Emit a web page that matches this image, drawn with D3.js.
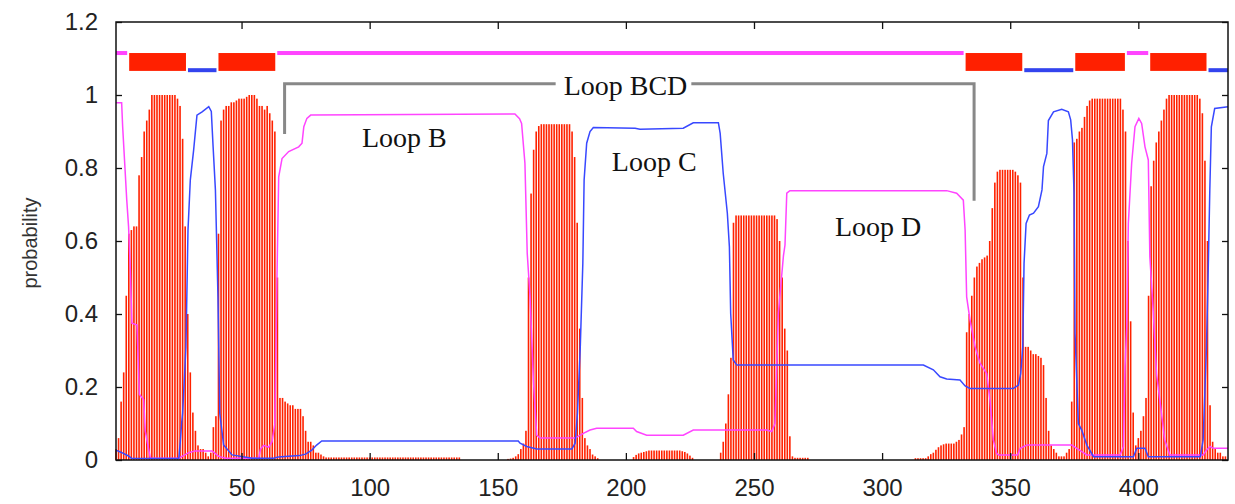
<!DOCTYPE html>
<html>
<head>
<meta charset="utf-8">
<script src="https://cdn.jsdelivr.net/npm/d3@7"></script>
<style>
  body { margin: 0; background: #fff; }
  svg { display: block; }
</style>
</head>
<body>
<script>
(function(){

    //TM helix probability, one value per residue 1..435 (red impulses)
    var helixProb = [
        0.03, 0.06, 0.16, 0.24, 0.45, 0.62, 0.63, 0.64, 0.64, 0.78,
        0.83, 0.9, 0.93, 0.96, 1, 1, 1, 1, 1, 1,
        1, 1, 1, 1, 0.99, 0.97, 0.88, 0.64, 0.4, 0.24,
        0.13, 0.08, 0.04, 0.03, 0.03, 0.02, 0.01, 0.02, 0.09, 0.12,
        0.62, 0.93, 0.96, 0.97, 0.97, 0.98, 0.98, 0.985, 0.99, 0.99,
        0.99, 0.995, 1, 1, 1, 0.99, 0.97, 0.97, 0.96, 0.97,
        0.95, 0.93, 0.9, 0.5, 0.17, 0.17, 0.16, 0.155, 0.15, 0.15,
        0.14, 0.14, 0.14, 0.12, 0.08, 0.05, 0.05, 0.04, 0.02, 0.02,
        0.015, 0.01, 0.007, 0.007, 0.007, 0.007, 0.007, 0.007, 0.007, 0.007,
        0.007, 0.007, 0.007, 0.007, 0.007, 0.007, 0.007, 0.007, 0.007, 0.007,
        0.007, 0.007, 0.007, 0.007, 0.007, 0.007, 0.007, 0.007, 0.007, 0.007,
        0.007, 0.007, 0.007, 0.007, 0.007, 0.007, 0.007, 0.007, 0.007, 0.007,
        0.007, 0.007, 0.007, 0.007, 0.007, 0.007, 0.007, 0.007, 0.007, 0.007,
        0.007, 0.007, 0.007, 0.007, 0.007, 0, 0, 0, 0, 0,
        0, 0, 0, 0, 0, 0, 0, 0, 0, 0,
        0, 0, 0, 0.003, 0.004, 0.006, 0.01, 0.016, 0.03, 0.045,
        0.08, 0.5, 0.73, 0.85, 0.9, 0.915, 0.92, 0.92, 0.92, 0.92,
        0.92, 0.92, 0.92, 0.92, 0.92, 0.92, 0.92, 0.92, 0.9, 0.83,
        0.65, 0.36, 0.17, 0.06, 0.04, 0.03, 0.015, 0.01, 0.005, 0,
        0, 0, 0, 0, 0, 0, 0, 0, 0, 0,
        0, 0, 0.008, 0.014, 0.018, 0.02, 0.022, 0.024, 0.026, 0.026,
        0.026, 0.026, 0.026, 0.026, 0.026, 0.026, 0.026, 0.026, 0.026, 0.026,
        0.026, 0.024, 0.022, 0.018, 0.012, 0.006, 0, 0, 0, 0,
        0, 0, 0, 0, 0, 0, 0.02, 0.05, 0.1, 0.18,
        0.28, 0.65, 0.67, 0.67, 0.67, 0.67, 0.67, 0.67, 0.67, 0.67,
        0.67, 0.67, 0.67, 0.67, 0.67, 0.67, 0.67, 0.67, 0.66, 0.6,
        0.5, 0.36, 0.3, 0.065, 0.01, 0.006, 0.006, 0.006, 0.006, 0.006,
        0.006, 0, 0, 0, 0, 0, 0, 0, 0, 0,
        0, 0, 0, 0, 0, 0, 0, 0, 0, 0,
        0, 0, 0, 0, 0, 0, 0, 0, 0, 0,
        0, 0, 0, 0, 0, 0, 0, 0, 0, 0,
        0, 0, 0.005, 0.005, 0.005, 0.005, 0.005, 0.01, 0.016, 0.02,
        0.028, 0.035, 0.04, 0.043, 0.045, 0.045, 0.045, 0.045, 0.05, 0.055,
        0.07, 0.09, 0.35, 0.4, 0.45, 0.5, 0.53, 0.54, 0.55, 0.555,
        0.56, 0.6, 0.69, 0.76, 0.79, 0.795, 0.795, 0.795, 0.795, 0.795,
        0.795, 0.79, 0.78, 0.76, 0.5, 0.31, 0.31, 0.3, 0.29, 0.29,
        0.285, 0.28, 0.26, 0.17, 0.08, 0.04, 0.03, 0.02, 0.01, 0.01,
        0.01, 0.02, 0.03, 0.16, 0.87, 0.88, 0.9, 0.91, 0.94, 0.97,
        0.985, 0.99, 0.99, 0.99, 0.99, 0.99, 0.99, 0.99, 0.99, 0.99,
        0.99, 0.99, 0.99, 0.96, 0.9, 0.6, 0.38, 0.13, 0.04, 0.06,
        0.08, 0.12, 0.17, 0.45, 0.75, 0.82, 0.87, 0.9, 0.93, 0.96,
        0.99, 1, 1, 1, 1, 1, 1, 1, 1, 1,
        1, 1, 1, 0.99, 0.95, 0.82, 0.6, 0.15, 0.05, 0.03,
        0.02, 0.02, 0.01, 0.01, 0
    ];

    //inside probability (blue line), read point by point
    var insideRes = [1, 3.3, 5.9, 7, 25.5, 26.1, 26.6, 27, 28.3, 29.1, 30, 31.3, 32.6, 34.6, 37.2, 38.2, 38.9, 39.8, 40.8, 41.5,
        43, 46.3, 54.1, 62.4, 64.4, 72.5, 75, 77.4, 79.3, 81.3, 158, 158.7, 161.3, 165.2, 178.9, 180.2, 181.1, 182.2, 183.2, 183.7,
        184.7, 186, 187.3, 203.6, 205.5, 222.4, 226.3, 236.1, 236.8, 238, 239.6, 240.4, 240.9, 241.9, 243.3, 316.1, 320, 322.6, 325.2, 330.4,
        332.4, 334.3, 351.2, 353.2, 354.1, 354.9, 355.4, 356.2, 357.5, 359.1, 361, 362.4, 363, 364.3, 364.9, 366.9, 370.1, 372.7, 373.6, 374.3,
        374.9, 375.3, 376.6, 377.9, 379.9, 382.5, 398.1, 399.4, 402.6, 403.9, 424.2, 425.3, 426.6, 427.2, 427.9, 428.5, 429.8, 435];
    var insideProb = [0.027, 0.02, 0.011, 0.005, 0.004, 0.05, 0.1, 0.128, 0.31, 0.63, 0.767, 0.849, 0.945, 0.954, 0.968, 0.955, 0.858, 0.74, 0.447, 0.128,
        0.041, 0.014, 0.005, 0.005, 0.008, 0.012, 0.016, 0.027, 0.041, 0.052, 0.052, 0.046, 0.037, 0.03, 0.03, 0.046, 0.128, 0.31, 0.539, 0.767,
        0.868, 0.9, 0.911, 0.909, 0.906, 0.909, 0.924, 0.924, 0.895, 0.785, 0.676, 0.584, 0.402, 0.274, 0.26, 0.26, 0.247, 0.228, 0.222, 0.219,
        0.203, 0.196, 0.196, 0.205, 0.237, 0.31, 0.539, 0.648, 0.671, 0.676, 0.694, 0.74, 0.804, 0.84, 0.93, 0.954, 0.961, 0.954, 0.932, 0.877,
        0.731, 0.347, 0.1, 0.082, 0.041, 0.009, 0.009, 0.032, 0.032, 0.009, 0.009, 0.055, 0.31, 0.493, 0.74, 0.913, 0.963, 0.968];

    //outside / loop probability (magenta line)
    var outsideRes = [1, 3.2, 3.6, 4.5, 5.2, 5.9, 6.6, 7.2, 9.2, 10.1, 11.8, 12.4, 14.4, 25.5, 26.8, 29.4, 31.9, 38.5, 41.1, 43.7,
        56.7, 57.4, 58.6, 60.6, 61.9, 63, 63.8, 64.5, 65.8, 68.4, 72.3, 73.6, 74.3, 75.5, 77, 156.7, 158.5, 159.3, 160.6, 161.5,
        162.6, 163.9, 165.2, 166.5, 180.2, 183.4, 186, 188.6, 202.9, 204.2, 208.1, 222.4, 226.3, 255, 256.9, 258.2, 259.5, 261.5, 262.1, 262.8,
        264, 325.2, 329.1, 331.7, 332.4, 333, 334.3, 336.3, 338.2, 340.8, 342.1, 343.4, 344.7, 345.4, 352.9, 353.9, 356.5, 374, 376, 379.9,
        392.9, 394.2, 394.8, 395.5, 396.1, 397.4, 398.7, 400.2, 401.3, 402.6, 403.9, 404.5, 405.8, 407.1, 408.4, 410.3, 412.3, 425.3, 426.6, 428,
        429.3, 435];
    var outsideProb = [0.979, 0.979, 0.913, 0.8, 0.712, 0.64, 0.52, 0.375, 0.37, 0.18, 0.165, 0.08, 0.005, 0.005, 0.01, 0.02, 0.025, 0.025, 0.01, 0.005,
        0.005, 0.03, 0.04, 0.035, 0.05, 0.1, 0.49, 0.776, 0.826, 0.845, 0.858, 0.868, 0.913, 0.936, 0.945, 0.948, 0.935, 0.922, 0.813, 0.566,
        0.447, 0.219, 0.068, 0.06, 0.06, 0.073, 0.082, 0.087, 0.087, 0.078, 0.068, 0.068, 0.082, 0.082, 0.078, 0.1, 0.402, 0.56, 0.589, 0.731,
        0.738, 0.738, 0.731, 0.712, 0.63, 0.447, 0.384, 0.31, 0.265, 0.237, 0.164, 0.055, 0.018, 0.014, 0.014, 0.032, 0.041, 0.041, 0.032, 0.014,
        0.014, 0.037, 0.256, 0.365, 0.648, 0.813, 0.913, 0.936, 0.922, 0.858, 0.822, 0.557, 0.41, 0.237, 0.164, 0.055, 0.014, 0.014, 0.027, 0.037,
        0.032, 0.032];

    //predicted topology strip drawn above the curves
    var topoFrom = [1, 5.75, 28.7, 40.6, 63.55, 332.2, 355.1, 375, 395.15, 404.25, 427];
    var topoTo = [5.75, 28.7, 40.6, 63.55, 332.2, 355.1, 375, 395.15, 404.25, 427, 435];
    var topoType = ["out", "tm", "in", "tm", "out", "tm", "in", "tm", "out", "tm", "in"];

    //axis ticks
    var xTicks = [50, 100, 150, 200, 250, 300, 350, 400];
    var yTicks = [0, 0.2, 0.4, 0.6, 0.8, 1, 1.2];
    var yTickLabels = ["0", "0.2", "0.4", "0.6", "0.8", "1", "1.2"];

    //loop annotations
    var loopNames = ["Loop B", "Loop C", "Loop D"];
    var loopRes = [97, 194.5, 281.6];
    var loopProb = [0.858, 0.793, 0.614];
    var bracketName = "Loop BCD";
    var bracketRes = [66.8, 335.9];

    //frame dimensions
    var width = 1235,
        height = 504;
    var left = 116, right = 1228, top = 22, bottom = 460;

    var svg = d3.select("body")
        .append("svg")
        .attr("width", width)
        .attr("height", height);

    var x = d3.scaleLinear().domain([1, 435]).range([left, right]);
    var y = d3.scaleLinear().domain([0, 1.2]).range([bottom, top]);

    var sans = "'Liberation Sans', Arial, Helvetica, sans-serif",
        serif = "'Liberation Serif', 'Times New Roman', Times, serif";

    //red impulses, one per residue
    svg.append("g")
        .selectAll("rect")
        .data(helixProb)
        .enter()
        .append("rect")
        .attr("x", function(d, i){ return x(i + 1) - 0.8; })
        .attr("width", 1.6)
        .attr("y", function(d){ return y(d); })
        .attr("height", function(d){ return y(0) - y(d); })
        .attr("fill", "#ff2200");

    //probability lines
    var line = d3.line()
        .x(function(d){ return x(d[0]); })
        .y(function(d){ return y(d[1]); });

    svg.append("path")
        .datum(d3.zip(outsideRes, outsideProb))
        .attr("d", line)
        .attr("fill", "none")
        .attr("stroke", "#ff44ff")
        .attr("stroke-width", 1.5);

    svg.append("path")
        .datum(d3.zip(insideRes, insideProb))
        .attr("d", line)
        .attr("fill", "none")
        .attr("stroke", "#3848ff")
        .attr("stroke-width", 1.5);

    //topology strip: tm = red box, in = blue bar (low), out = magenta bar (high)
    var strip = svg.append("g");
    topoType.forEach(function(t, i){
        var x0 = x(topoFrom[i]) + (i === 0 ? 0 : 1),
            x1 = x(topoTo[i]) - (i === topoType.length - 1 ? 0 : 1);
        if (t === "tm"){
            strip.append("rect")
                .attr("x", x0).attr("width", x1 - x0)
                .attr("y", y(1.115)).attr("height", y(1.066) - y(1.115))
                .attr("fill", "#ff2000");
        } else {
            strip.append("rect")
                .attr("x", x0).attr("width", x1 - x0)
                .attr("y", y(t === "in" ? 1.068 : 1.115) - 2).attr("height", 4)
                .attr("fill", t === "in" ? "#3344ee" : "#ff44ff");
        }
    });

    //Loop BCD bracket with its label
    var bcd = svg.append("text")
        .attr("x", x((bracketRes[0] + bracketRes[1]) / 2 - 1.5))
        .attr("y", y(1.0))
        .attr("text-anchor", "middle")
        .style("font-family", serif)
        .style("font-size", "28px")
        .attr("fill", "#111")
        .text(bracketName);
    var bb = bcd.node().getBBox();
    var bracketTop = y(1.031);

    svg.append("path")
        .attr("d", "M" + x(bracketRes[0]) + "," + y(0.893) + "V" + bracketTop + "H" + (bb.x - 8))
        .attr("fill", "none").attr("stroke", "#888").attr("stroke-width", 3);
    svg.append("path")
        .attr("d", "M" + (bb.x + bb.width + 4) + "," + bracketTop + "H" + x(bracketRes[1]) + "V" + y(0.71))
        .attr("fill", "none").attr("stroke", "#888").attr("stroke-width", 3);

    //loop labels
    svg.append("g")
        .selectAll("text")
        .data(loopNames)
        .enter()
        .append("text")
        .attr("x", function(d, i){ return x(loopRes[i]); })
        .attr("y", function(d, i){ return y(loopProb[i]); })
        .style("font-family", serif)
        .style("font-size", "28px")
        .attr("fill", "#111")
        .text(function(d){ return d; });

    //axes with inward ticks, mirrored on top and right
    svg.append("g")
        .attr("transform", "translate(0," + bottom + ")")
        .call(d3.axisBottom(x).tickValues(xTicks).tickSize(-7).tickPadding(19));
    svg.append("g")
        .attr("transform", "translate(" + left + ",0)")
        .call(d3.axisLeft(y).tickValues(yTicks).tickSize(-6).tickPadding(18)
            .tickFormat(function(d, i){ return yTickLabels[i]; }));
    svg.append("g")
        .attr("transform", "translate(0," + top + ")")
        .call(d3.axisTop(x).tickValues(xTicks).tickSize(-7).tickFormat(""));
    svg.append("g")
        .attr("transform", "translate(" + right + ",0)")
        .call(d3.axisRight(y).tickValues(yTicks).tickSize(-6).tickFormat(""));

    svg.selectAll(".domain").remove();
    svg.selectAll(".tick line").attr("stroke", "#111").attr("stroke-width", 1.3);
    svg.selectAll(".tick text")
        .style("font-family", sans)
        .style("font-size", "24px")
        .attr("fill", "#222");

    //plot frame
    svg.append("rect")
        .attr("x", left).attr("y", top)
        .attr("width", right - left).attr("height", bottom - top)
        .attr("fill", "none")
        .attr("stroke", "#111")
        .attr("stroke-width", 1.5);

    //y axis title
    svg.append("text")
        .attr("transform", "translate(37," + ((top + bottom) / 2 + 2) + ") rotate(-90)")
        .attr("text-anchor", "middle")
        .style("font-family", sans)
        .style("font-size", "20px")
        .attr("fill", "#333")
        .text("probability");

})();
</script>
</body>
</html>
